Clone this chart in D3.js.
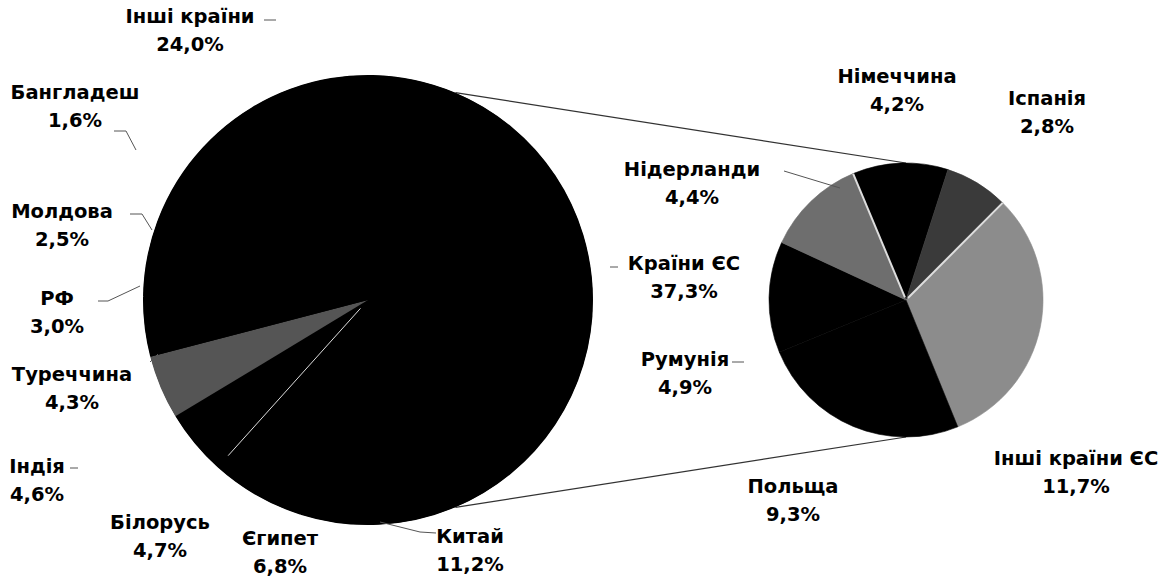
<!DOCTYPE html>
<html>
<head>
<meta charset="utf-8">
<script src="https://cdn.jsdelivr.net/npm/d3@7"></script>
<style>
  body { margin: 0; background: #fff; }
  text { font-family: "DejaVu Sans", sans-serif; font-weight: bold; font-size: 19.5px; fill: #000; }
</style>
</head>
<body>
<svg id="chart"></svg>
<script>
// main pie: structure of exports
const mainCategories = ["Країни ЄС", "Китай", "Єгипет", "Білорусь", "Індія", "Туреччина", "РФ", "Молдова", "Бангладеш", "Інші країни"];
const mainValues = [37.3, 11.2, 6.8, 4.7, 4.6, 4.3, 3.0, 2.5, 1.6, 24.0];

// second pie: breakdown of the EU share
const euCategories = ["Німеччина", "Іспанія", "Інші країни ЄС", "Польща", "Румунія", "Нідерланди"];
const euValues = [4.2, 2.8, 11.7, 9.3, 4.9, 4.4];

const mainColors = ["#000", "#000", "#000", "#000", "#555", "#000", "#000", "#000", "#000", "#000"];
const euColors = ["#000", "#3a3a3a", "#8c8c8c", "#000", "#000", "#6e6e6e"];

const width = 1174, height = 581;
const main = {cx: 368, cy: 300, r: 225};
const sub = {cx: 906, cy: 300, r: 137};
const lineGap = 28;

// centre of the first text line
const labelPos = {
    "Інші країни": [190, 16], "Бангладеш": [75, 92], "Молдова": [62, 211], "РФ": [57, 298],
    "Туреччина": [72, 374], "Індія": [37, 466], "Білорусь": [160, 522], "Єгипет": [280, 538],
    "Китай": [470, 536], "Країни ЄС": [684, 263],
    "Німеччина": [897, 76], "Іспанія": [1047, 98], "Нідерланди": [692, 169],
    "Румунія": [685, 359], "Польща": [793, 486], "Інші країни ЄС": [1076, 458]
};

// short leader dashes as in the scan
const leaders = [
    [[264, 20], [276, 20]], [[114, 131], [126, 131], [136, 150]], [[130, 214], [142, 214], [152, 230]],
    [[98, 301], [108, 301], [140, 286]], [[150, 362], [158, 354]], [[70, 468], [78, 468]],
    [[380, 522], [420, 532], [436, 533]], [[610, 267], [618, 267]], [[784, 171], [840, 188]],
    [[1026, 130], [1032, 130]], [[732, 362], [744, 362]]
];

const fmt = v => d3.format(".1f")(v).replace(".", ",") + "%";

const svg = d3.select("#chart").attr("width", width).attr("height", height);

const share = mainValues[0] / d3.sum(mainValues);
const mainStart = Math.PI / 2 - share * Math.PI;
const mainPie = d3.pie().sort(null).value(d => d)
    .startAngle(mainStart).endAngle(mainStart + 2 * Math.PI);
const mainArcs = mainPie(mainValues);

const euStart = -22.7 * Math.PI / 180;
const euPie = d3.pie().sort(null).value(d => d)
    .startAngle(euStart).endAngle(euStart + 2 * Math.PI);
const euArcs = euPie(euValues);

const pt = (c, a, r) => [c.cx + r * Math.sin(a), c.cy - r * Math.cos(a)];

// connector lines between the two pies
const euSlice = mainArcs[0];
const connectors = [
    [pt(main, euSlice.startAngle, main.r), [sub.cx, sub.cy - sub.r]],
    [pt(main, euSlice.endAngle, main.r), [sub.cx, sub.cy + sub.r]]
];
svg.append("g").selectAll("line")
    .data(connectors)
    .join("line")
    .attr("x1", d => d[0][0]).attr("y1", d => d[0][1])
    .attr("x2", d => d[1][0]).attr("y2", d => d[1][1])
    .attr("stroke", "#333").attr("stroke-width", 1.2);

// black disc under the slices hides antialias seams
svg.append("circle").attr("cx", main.cx).attr("cy", main.cy).attr("r", main.r - 0.5).attr("fill", "#000");

const mainArc = d3.arc().innerRadius(0).outerRadius(main.r);
svg.append("g")
    .attr("transform", `translate(${main.cx}, ${main.cy})`)
    .selectAll("path")
    .data(mainArcs)
    .join("path")
    .attr("d", mainArc)
    .attr("fill", (d, i) => mainColors[i]);

const euArc = d3.arc().innerRadius(0).outerRadius(sub.r);
svg.append("g")
    .attr("transform", `translate(${sub.cx}, ${sub.cy})`)
    .selectAll("path")
    .data(euArcs)
    .join("path")
    .attr("d", euArc)
    .attr("fill", (d, i) => euColors[i])
    .attr("stroke", (d, i) => euColors[i])
    .attr("stroke-width", 0.6);

// pale separators that survive in the scan
const seps = [
    [main, mainArcs[3].startAngle, 0.05, 0.93, 1],
    [sub, euArcs[0].startAngle, 0.02, 1, 2],
    [sub, euArcs[2].startAngle, 0.02, 1, 2]
];
svg.append("g").selectAll("line")
    .data(seps)
    .join("line")
    .attr("x1", d => pt(d[0], d[1], d[0].r * d[2])[0])
    .attr("y1", d => pt(d[0], d[1], d[0].r * d[2])[1])
    .attr("x2", d => pt(d[0], d[1], d[0].r * d[3])[0])
    .attr("y2", d => pt(d[0], d[1], d[0].r * d[3])[1])
    .attr("stroke", "#ddd").attr("stroke-width", d => d[4]);

svg.append("g").selectAll("polyline")
    .data(leaders)
    .join("polyline")
    .attr("points", d => d.map(p => p.join(",")).join(" "))
    .attr("fill", "none").attr("stroke", "#555").attr("stroke-width", 1);

const labels = mainCategories.map((c, i) => ({name: c, value: mainValues[i]}))
    .concat(euCategories.map((c, i) => ({name: c, value: euValues[i]})));

const lab = svg.append("g").selectAll("text")
    .data(labels)
    .join("text")
    .attr("text-anchor", "middle")
    .attr("x", d => labelPos[d.name][0])
    .attr("y", d => labelPos[d.name][1] + 7);
lab.append("tspan").text(d => d.name);
lab.append("tspan")
    .attr("x", d => labelPos[d.name][0])
    .attr("dy", lineGap)
    .text(d => fmt(d.value));
</script>
</body>
</html>
